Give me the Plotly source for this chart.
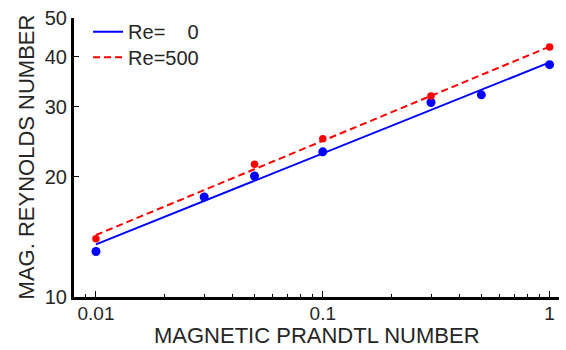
import plotly.graph_objects as go
import numpy as np

# Data
pm = [0.01, 0.03, 0.05, 0.1, 0.3, 0.5, 1.0]
rm_re0 = [13.0, 17.8, 20.1, 23.1, 30.7, 32.1, 38.2]
pm_500 = [0.01, 0.05, 0.1, 0.3, 1.0]
rm_re500 = [14.0, 21.5, 24.9, 31.9, 42.3]
fit_x = [0.01, 1.0]
fit_re0 = [13.55, 38.7]
fit_re500 = [14.3, 42.4]

x_range = [0.008, 1.1]
y_range = [10, 50]
x_ticks = [0.01, 0.1, 1]
x_ticktext = ["0.01", "0.1", "1"]
x_minor = [0.008, 0.009] + [k * 0.01 for k in range(2, 10)] + [k * 0.1 for k in range(2, 10)]
y_ticks = [10, 20, 30, 40, 50]

FONT = "Liberation Sans, Arial, Helvetica, sans-serif"
TXT = "#262626"

fig = go.Figure()
fig.add_trace(go.Scatter(x=fit_x, y=fit_re0, mode="lines", name="Re=\u00a0\u00a0\u00a0\u00a00",
                         line=dict(color="#0000ff", width=2), legend="legend"))
fig.add_trace(go.Scatter(x=fit_x, y=fit_re500, mode="lines", name="Re=500",
                         line=dict(color="#ff0000", width=2, dash="7px,4px"), legend="legend2"))
fig.add_trace(go.Scatter(x=pm, y=rm_re0, mode="markers", showlegend=False,
                         marker=dict(color="#0000ff", size=9)))
fig.add_trace(go.Scatter(x=pm_500, y=rm_re500, mode="markers", showlegend=False,
                         marker=dict(color="#ff0000", size=7.5)))

lx = [np.log10(v) for v in x_range]
ly = [np.log10(v) for v in y_range]

leg_common = dict(xanchor="left", yanchor="middle", bgcolor="rgba(0,0,0,0)",
                  font=dict(size=20, color=TXT), itemwidth=30)

fig.update_layout(
    width=566, height=350,
    margin=dict(l=74, r=7, t=14, b=53),
    paper_bgcolor="white", plot_bgcolor="white",
    font=dict(family=FONT, size=20, color=TXT),
    showlegend=True,
    legend=dict(x=0.029, y=0.951, **leg_common),
    legend2=dict(x=0.029, y=0.859, **leg_common),
    xaxis=dict(type="log", range=lx, showgrid=False, zeroline=False,
               showline=True, linecolor="black", linewidth=3,
               ticks="inside", ticklen=6, tickwidth=1, tickcolor="black",
               tickmode="array", tickvals=x_ticks, ticktext=x_ticktext,
               tickfont=dict(size=19, color=TXT), ticklabelstandoff=-3,
               minor=dict(tickmode="array", tickvals=x_minor, ticks="inside",
                          ticklen=3, tickwidth=1, tickcolor="black", showgrid=False)),
    yaxis=dict(type="log", range=ly, showgrid=False, zeroline=False,
               showline=True, linecolor="black", linewidth=3,
               ticks="inside", ticklen=5, tickwidth=1, tickcolor="black",
               tickmode="array", tickvals=y_ticks, ticktext=[str(v) for v in y_ticks],
               tickfont=dict(size=20, color=TXT)),
    xaxis2=dict(type="log", range=lx, overlaying="x", side="top", anchor="y",
                showgrid=False, zeroline=False, showline=True, linecolor="black",
                linewidth=1, ticks="inside", ticklen=6, tickwidth=1, tickcolor="black",
                tickmode="array", tickvals=x_ticks, showticklabels=False,
                minor=dict(tickmode="array", tickvals=x_minor, ticks="inside",
                           ticklen=3, tickwidth=1, tickcolor="black", showgrid=False)),
    yaxis2=dict(type="log", range=ly, overlaying="y", side="right", anchor="x",
                showgrid=False, zeroline=False, showline=True, linecolor="black",
                linewidth=1, ticks="inside", ticklen=5, tickwidth=1, tickcolor="black",
                tickmode="array", tickvals=y_ticks, showticklabels=False),
    annotations=[
        dict(text="MAGNETIC PRANDTL NUMBER", xref="paper", yref="paper",
             x=0.5, y=-0.138, xanchor="center", yanchor="middle", showarrow=False,
             font=dict(size=22, color=TXT)),
        dict(text="MAG. REYNOLDS NUMBER", xref="paper", yref="paper",
             x=-0.098, y=0.502, xanchor="center", yanchor="middle", showarrow=False,
             textangle=-90, font=dict(size=22, color=TXT)),
    ],
)

fig.write_html("out.html")
